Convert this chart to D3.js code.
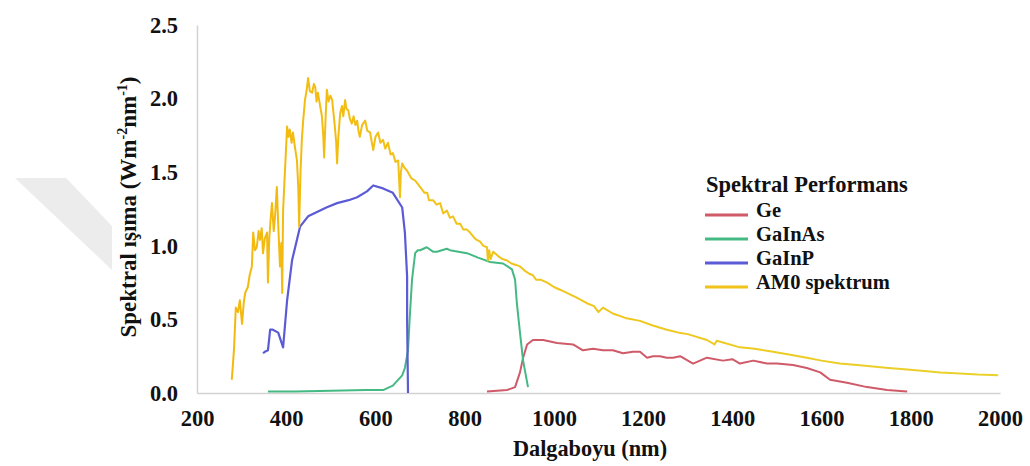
<!DOCTYPE html>
<html>
<head>
<meta charset="utf-8">
<script src="https://cdn.jsdelivr.net/npm/d3@7"></script>
<style>
  html, body { margin: 0; padding: 0; background: #fff; }
  svg { display: block; }
</style>
</head>
<body>
<svg id="chart" width="1030" height="466"></svg>
<script>
// ---------- data ----------
const xTicks = [200, 400, 600, 800, 1000, 1200, 1400, 1600, 1800, 2000];
const yTicks = [0, 0.5, 1.0, 1.5, 2.0, 2.5];
const seriesNames = ["Ge", "GaInAs", "GaInP", "AM0 spektrum"];
const seriesColors = ["#cf5a68", "#45b983", "#5b5bd6", "#f0c21a"];

const geNm  = [850, 895, 913, 924, 931, 940, 953, 976, 1007, 1043, 1065, 1088, 1110, 1132, 1155, 1177, 1193, 1209, 1222, 1238, 1253, 1267, 1283, 1312, 1343, 1379, 1400, 1417, 1447, 1478, 1500, 1536, 1567, 1597, 1619, 1657, 1702, 1747, 1792];
const geVal = [0.01, 0.02, 0.04, 0.14, 0.24, 0.33, 0.36, 0.36, 0.34, 0.33, 0.29, 0.30, 0.29, 0.29, 0.27, 0.28, 0.28, 0.24, 0.25, 0.25, 0.24, 0.24, 0.25, 0.20, 0.24, 0.22, 0.23, 0.20, 0.22, 0.20, 0.20, 0.19, 0.17, 0.14, 0.09, 0.07, 0.04, 0.02, 0.01];

const gainasNm  = [359, 420, 500, 580, 617, 639, 660, 666, 673, 677, 682, 689, 695, 700, 715, 729, 738, 760, 767, 805, 830, 857, 886, 906, 913, 917, 924, 931, 942];
const gainasVal = [0.01, 0.01, 0.015, 0.02, 0.02, 0.05, 0.12, 0.17, 0.29, 0.52, 0.77, 0.95, 0.97, 0.97, 0.99, 0.96, 0.96, 0.98, 0.97, 0.95, 0.92, 0.89, 0.88, 0.84, 0.77, 0.61, 0.41, 0.22, 0.04];

const gainpNm  = [348, 352, 359, 364, 370, 382, 393, 402, 413, 431, 449, 469, 490, 514, 540, 559, 581, 595, 617, 639, 660, 666, 671, 671, 673];
const gainpVal = [0.27, 0.28, 0.29, 0.43, 0.43, 0.41, 0.31, 0.63, 0.90, 1.13, 1.20, 1.23, 1.26, 1.29, 1.31, 1.33, 1.37, 1.41, 1.39, 1.36, 1.26, 1.09, 0.79, 0.50, 0.0];

const am0Nm  = [278, 283, 287, 292, 296, 301, 305, 308, 314, 318, 323, 326, 330, 334, 338, 341, 345, 348, 352, 357, 359, 362, 365, 368, 372, 375, 379, 382, 386, 389, 391, 393, 397, 402, 405, 408, 412, 415, 420, 424, 427, 429, 432, 435, 438, 442, 446, 449, 453, 458, 462, 465, 468, 471, 476, 480, 483, 485, 488, 491, 495, 499, 503, 506, 509, 512, 514, 517, 521, 525, 528, 532, 535, 539, 543, 547, 551, 555, 559, 562, 565, 570, 577, 582, 588, 592, 595, 600, 606, 611, 617, 622, 628, 634, 639, 645, 651, 653, 655, 657, 660, 665, 671, 680, 690, 700, 710, 716, 720, 729, 737, 745, 752, 760, 767, 774, 782, 790, 797, 805, 812, 820, 827, 834, 842, 850, 852, 855, 858, 864, 875, 885, 895, 905, 915, 924, 935, 945, 953, 960, 970, 985, 1000, 1015, 1029, 1050, 1074, 1090, 1100, 1110, 1132, 1160, 1193, 1220, 1253, 1280, 1300, 1343, 1360, 1365, 1417, 1450, 1491, 1530, 1567, 1600, 1641, 1680, 1715, 1750, 1792, 1830, 1866, 1900, 1950, 1996];
const am0Val = [0.09, 0.30, 0.58, 0.55, 0.63, 0.47, 0.62, 0.68, 0.72, 0.80, 0.86, 1.09, 0.97, 0.99, 1.10, 1.04, 1.12, 0.95, 1.05, 1.09, 0.75, 1.05, 1.18, 1.29, 1.10, 1.20, 1.40, 1.15, 0.86, 1.02, 0.68, 1.24, 1.50, 1.81, 1.74, 1.79, 1.70, 1.77, 1.66, 1.58, 1.40, 1.13, 1.50, 1.72, 1.85, 1.99, 2.06, 2.14, 2.05, 2.04, 2.10, 2.08, 1.98, 2.04, 1.95, 1.88, 1.75, 1.60, 1.85, 2.06, 1.98, 2.02, 1.99, 1.90, 1.81, 1.70, 1.56, 1.75, 1.90, 1.95, 1.88, 1.99, 1.93, 1.92, 1.86, 1.83, 1.88, 1.82, 1.85, 1.78, 1.74, 1.82, 1.85, 1.78, 1.77, 1.70, 1.65, 1.74, 1.77, 1.70, 1.72, 1.66, 1.70, 1.62, 1.63, 1.57, 1.58, 1.45, 1.33, 1.50, 1.56, 1.53, 1.51, 1.46, 1.44, 1.40, 1.36, 1.36, 1.31, 1.31, 1.28, 1.29, 1.22, 1.24, 1.19, 1.20, 1.15, 1.15, 1.11, 1.11, 1.09, 1.06, 1.04, 1.03, 1.00, 0.99, 0.90, 0.97, 0.91, 0.96, 0.93, 0.91, 0.90, 0.88, 0.87, 0.86, 0.83, 0.81, 0.80, 0.77, 0.77, 0.75, 0.72, 0.70, 0.68, 0.65, 0.61, 0.59, 0.55, 0.58, 0.54, 0.51, 0.49, 0.46, 0.43, 0.41, 0.40, 0.36, 0.33, 0.355, 0.31, 0.30, 0.28, 0.26, 0.24, 0.22, 0.20, 0.19, 0.18, 0.17, 0.16, 0.15, 0.14, 0.135, 0.125, 0.12];

// ---------- layout ----------
const FONT = '"Liberation Serif", "Tinos", "Times New Roman", serif';
const svg = d3.select("#chart");
const x = d3.scaleLinear().domain([200, 2000]).range([197, 1000]);
const y = d3.scaleLinear().domain([0, 2.5]).range([393, 25]);

function styleText(sel, size) {
  return sel.style("font-family", FONT).style("font-weight", "bold")
    .style("font-size", size + "px").style("fill", "#111");
}

// gradient for the AM0 curve (golden on the left, yellower on the right)
const defs = svg.append("defs");
const grad = defs.append("linearGradient").attr("id", "am0grad")
  .attr("gradientUnits", "userSpaceOnUse")
  .attr("x1", x(200)).attr("x2", x(2000)).attr("y1", 0).attr("y2", 0);
grad.append("stop").attr("offset", "0%").attr("stop-color", "#f3b70c");
grad.append("stop").attr("offset", "30%").attr("stop-color", "#f2c218");
grad.append("stop").attr("offset", "100%").attr("stop-color", "#e9d22c");

// watermark-like grey band at left (background decoration)
svg.append("polygon")
  .attr("points", "15,178 66,178 112,226 112,270")
  .attr("fill", "#ececec");

// axes
const xAxis = d3.axisBottom(x).tickValues(xTicks).tickSize(0).tickPadding(17).tickFormat(d3.format("d"));
const yAxis = d3.axisLeft(y).tickValues(yTicks).tickSize(0).tickPadding(19).tickFormat(d3.format(".1f"));

const gx = svg.append("g").attr("transform", `translate(0,${y(0)})`).call(xAxis);
const gy = svg.append("g").attr("transform", `translate(${x(200)},0)`).call(yAxis);
[gx, gy].forEach(g => {
  g.attr("font-family", null).attr("font-size", null);
  g.select(".domain").attr("stroke", "#d2d2d2").attr("stroke-width", 1.5);
  styleText(g.selectAll("text"), 22.5);
});

// axis titles
styleText(svg.append("text")
  .attr("x", 590).attr("y", 456)
  .attr("text-anchor", "middle"), 22.3)
  .text("Dalgaboyu (nm)");

const yt = styleText(svg.append("text")
  .attr("transform", "translate(136,207) rotate(-90)")
  .attr("text-anchor", "middle"), 23);
yt.append("tspan").text("Spektral ışıma (Wm");
yt.append("tspan").style("font-size", "14px").attr("dy", -9).text("-2");
yt.append("tspan").attr("dy", 9).text("nm");
yt.append("tspan").style("font-size", "14px").attr("dy", -9).text("-1");
yt.append("tspan").attr("dy", 9).text(")");

// series
const series = [
  { nm: geNm, val: geVal, w: 2, stroke: seriesColors[0] },
  { nm: gainasNm, val: gainasVal, w: 2, stroke: seriesColors[1] },
  { nm: gainpNm, val: gainpVal, w: 2.2, stroke: seriesColors[2] },
  { nm: am0Nm, val: am0Val, w: 2, stroke: "url(#am0grad)" }
];
const line = d3.line().x(d => x(d[0])).y(d => y(d[1]));
series.forEach(s => {
  const pts = s.nm.map((n, j) => [n, s.val[j]]);
  svg.append("path")
    .attr("d", line(pts))
    .attr("fill", "none")
    .attr("stroke", s.stroke)
    .attr("stroke-width", s.w)
    .attr("stroke-linejoin", "round");
});

// legend
styleText(svg.append("text").attr("x", 706).attr("y", 192), 22.5).text("Spektral Performans");
const lg = svg.append("g");
seriesNames.forEach((name, i) => {
  const by = 217 + i * 24;
  lg.append("line")
    .attr("x1", 705).attr("x2", 748)
    .attr("y1", by - 2).attr("y2", by - 2)
    .attr("stroke", seriesColors[i]).attr("stroke-width", 3);
  styleText(lg.append("text").attr("x", 756).attr("y", by), 20.5).text(name);
});
</script>
</body>
</html>
